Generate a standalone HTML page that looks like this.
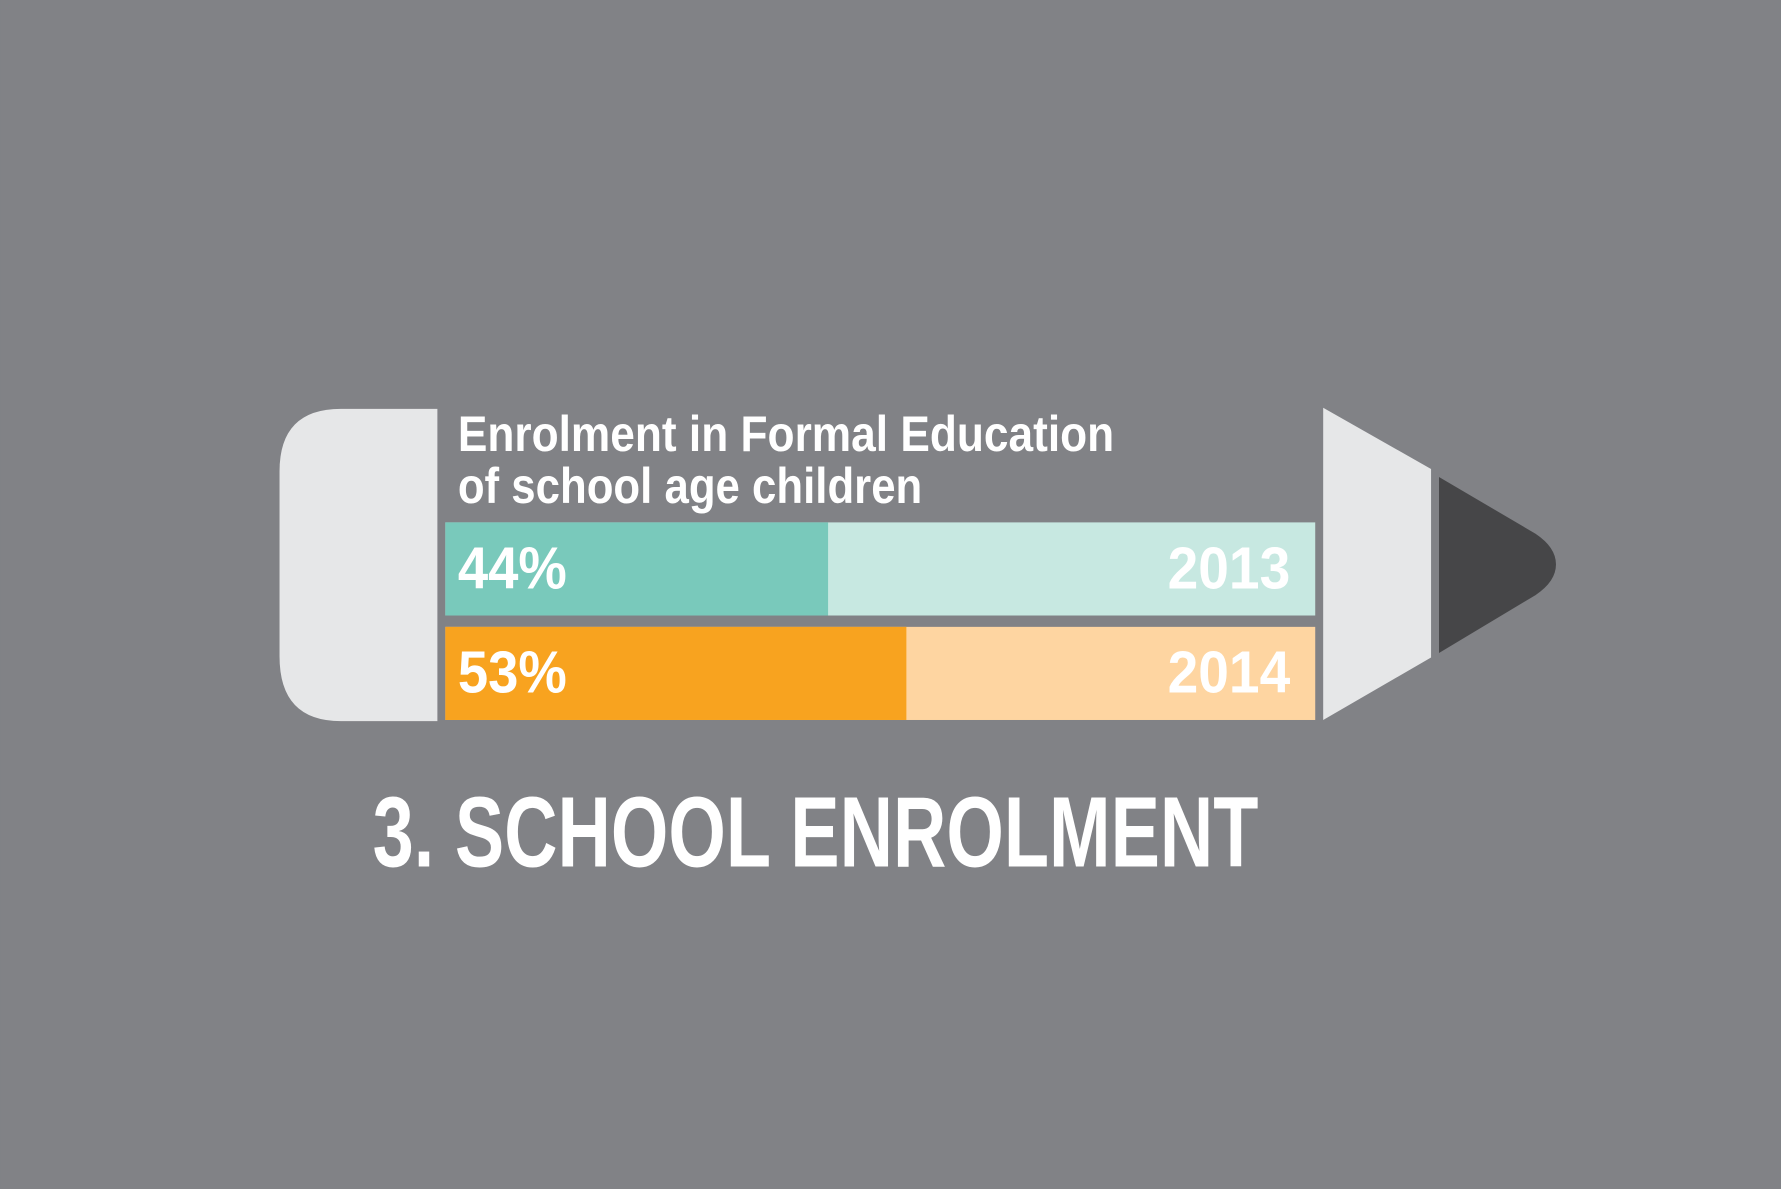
<!DOCTYPE html>
<html><head><meta charset="utf-8"><style>
html,body{margin:0;padding:0;background:#818286;}
svg{display:block}
text{font-family:"Liberation Sans",sans-serif;font-weight:bold;fill:#fff}
</style></head><body>
<svg id="chart" width="1781" height="1189" viewBox="0 0 1568 1047" xmlns="http://www.w3.org/2000/svg">
<rect x="0" y="0" width="1568" height="1047" fill="#818286"/>
<path d="M385,360 L300,360 Q246,360 246,415 L246,578 Q246,635 300,635 L385,635 Z" fill="#e6e7e8"/>
<polygon points="1165,359 1260,413 1260,579 1165,634" fill="#e6e7e8"/>
<path d="M1267,420 L1352,470 Q1370,482 1370,497 Q1370,512 1352,524 L1267,575 Z" fill="#464648"/>
<text x="403" y="397" font-size="44" textLength="578" lengthAdjust="spacingAndGlyphs">Enrolment in Formal Education</text>
<text x="403" y="443" font-size="44" textLength="409" lengthAdjust="spacingAndGlyphs">of school age children</text>
<g id="bars"></g>
<text x="328" y="763" font-size="88" textLength="780" lengthAdjust="spacingAndGlyphs">3. SCHOOL ENROLMENT</text>
</svg>
<script>
const years = ["2013", "2014"];
const values = [44, 53];
const fillColors = ["#79c9bb", "#f8a31f"];
const trackColors = ["#c7e8e1", "#fed5a1"];

const x0 = 392, x1 = 1158, rowTop = 460, rowH = 82, rowGap = 10;
function xScale(v){ return x0 + (x1 - x0) * v / 100; }
function yRow(i){ return rowTop + i * (rowH + rowGap); }

const NS = "http://www.w3.org/2000/svg";
const g = document.getElementById("bars");
years.forEach((yr, i) => {
  const y = yRow(i);
  const track = document.createElementNS(NS, "rect");
  
  
  track.setAttribute("x", x0); track.setAttribute("y", y);
  track.setAttribute("width", x1 - x0); track.setAttribute("height", rowH);
  track.setAttribute("fill", trackColors[i]);
  g.appendChild(track);

  const bar = document.createElementNS(NS, "rect");
  
  
  bar.setAttribute("x", x0); bar.setAttribute("y", y);
  bar.setAttribute("width", xScale(values[i]) - x0); bar.setAttribute("height", rowH);
  bar.setAttribute("fill", fillColors[i]);
  g.appendChild(bar);

  const lbl = document.createElementNS(NS, "text");
  
  
  lbl.setAttribute("x", 403); lbl.setAttribute("y", y + 58);
  lbl.setAttribute("font-size", "52");
  lbl.setAttribute("textLength", "96");
  lbl.setAttribute("lengthAdjust", "spacingAndGlyphs");
  lbl.textContent = values[i] + "%";
  g.appendChild(lbl);

  const yl = document.createElementNS(NS, "text");
  
  
  yl.setAttribute("x", 1136); yl.setAttribute("y", y + 58);
  yl.setAttribute("font-size", "52");
  yl.setAttribute("text-anchor", "end");
  yl.setAttribute("textLength", "108");
  yl.setAttribute("lengthAdjust", "spacingAndGlyphs");
  yl.textContent = yr;
  g.appendChild(yl);
});
</script>
</body></html>
